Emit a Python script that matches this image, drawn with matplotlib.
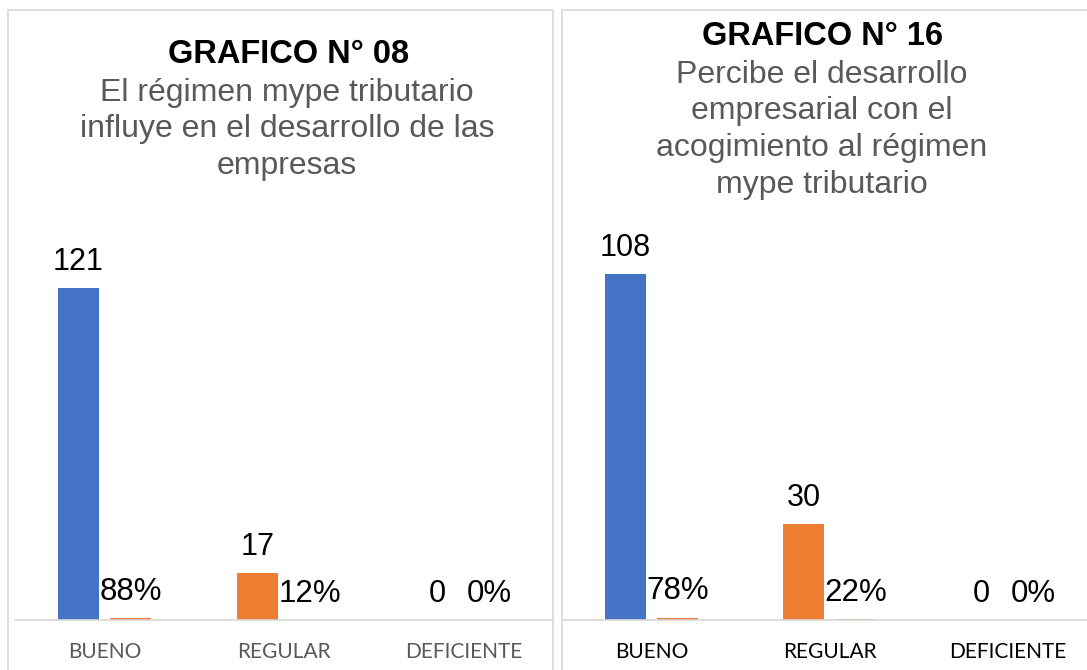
import matplotlib
matplotlib.use("Agg")
import matplotlib.pyplot as plt
from matplotlib.patches import Rectangle
import numpy as np

# ---- data ----
categories = ["BUENO", "REGULAR", "DEFICIENTE"]
g08_counts = [121, 17, 0]
g08_pct = [0.88, 0.12, 0.0]
g08_pct_labels = ["88%", "12%", "0%"]
g16_counts = [108, 30, 0]
g16_pct = [0.78, 0.22, 0.0]
g16_pct_labels = ["78%", "22%", "0%"]
g08_title = "GRAFICO N° 08"
g08_sub = ["El régimen mype tributario", "influye en el desarrollo de las", "empresas"]
g16_title = "GRAFICO N° 16"
g16_sub = ["Percibe el desarrollo", "empresarial con el", "acogimiento al régimen", "mype tributario"]

BLUE = "#4472C4"
ORANGE = "#ED7D31"
GRAY = "#A5A5A5"
count_colors = [BLUE, ORANGE, GRAY]
pct_colors = [ORANGE, ORANGE, ORANGE]

W, H = 1087, 670
fig = plt.figure(figsize=(W / 100, H / 100), dpi=100)
fig.patch.set_facecolor("white")

def fx(x):
    return x / W

def fy(y):
    return 1 - y / H

# panel borders
for (x0, x1) in [(8, 553), (562, 1100)]:
    fig.patches.append(Rectangle((fx(x0), fy(700)), fx(x1) - fx(x0), fy(10) - fy(700),
                                 transform=fig.transFigure, fill=False,
                                 edgecolor="#D9D9D9", linewidth=1.2))

def panel(left_px, right_px, counts, pct, pct_labels, ymax, tick_color):
    ax = fig.add_axes([fx(left_px), fy(620), fx(right_px) - fx(left_px), 384 / H])
    x = np.arange(len(categories))
    w = 0.23
    off = 0.146
    ax.bar(x - off, counts, w, color=count_colors)
    ax.bar(x + off, pct, w, color=pct_colors)
    for i in range(len(categories)):
        ax.annotate(str(counts[i]), (x[i] - off, counts[i]), xytext=(0, 13),
                    textcoords="offset points", ha="center", va="baseline",
                    fontsize=22, family="Liberation Sans", color="black")
        ax.annotate(pct_labels[i], (x[i] + off, pct[i]), xytext=(0, 13),
                    textcoords="offset points", ha="center", va="baseline",
                    fontsize=22.5, family="Liberation Sans", color="black")
    ax.set_xlim(-0.5, len(categories) - 0.5)
    ax.set_ylim(0, ymax)
    for s in ["top", "left", "right"]:
        ax.spines[s].set_visible(False)
    ax.spines["bottom"].set_color("#D9D9D9")
    ax.spines["bottom"].set_linewidth(1.2)
    ax.set_yticks([])
    ax.set_xticks(x)
    ax.set_xticklabels(categories, fontsize=15, family="Lato", color=tick_color)
    ax.tick_params(axis="x", length=0, pad=16)
    ax.patch.set_alpha(0)
    return ax

panel(15, 553, g08_counts, g08_pct, g08_pct_labels, 140, "#595959")
panel(562.5, 1096.5, g16_counts, g16_pct, g16_pct_labels, 120, "black")

# titles
fig.text(fx(289), fy(63), g08_title, ha="center", va="baseline", fontsize=23.5,
         fontweight="bold", family="Liberation Sans", color="black")
for i, line in enumerate(g08_sub):
    fig.text(fx(287), fy(101 + 36.5 * i), line, ha="center", va="baseline", fontsize=23,
             family="Liberation Sans", color="#595959")

fig.text(fx(822), fy(45), g16_title, ha="center", va="baseline", fontsize=23.5,
         fontweight="bold", family="Liberation Sans", color="black")
for i, line in enumerate(g16_sub):
    fig.text(fx(822), fy(83 + 36.5 * i), line, ha="center", va="baseline", fontsize=23,
             family="Liberation Sans", color="#595959")

fig.savefig("out.png", dpi=100, facecolor="white")
